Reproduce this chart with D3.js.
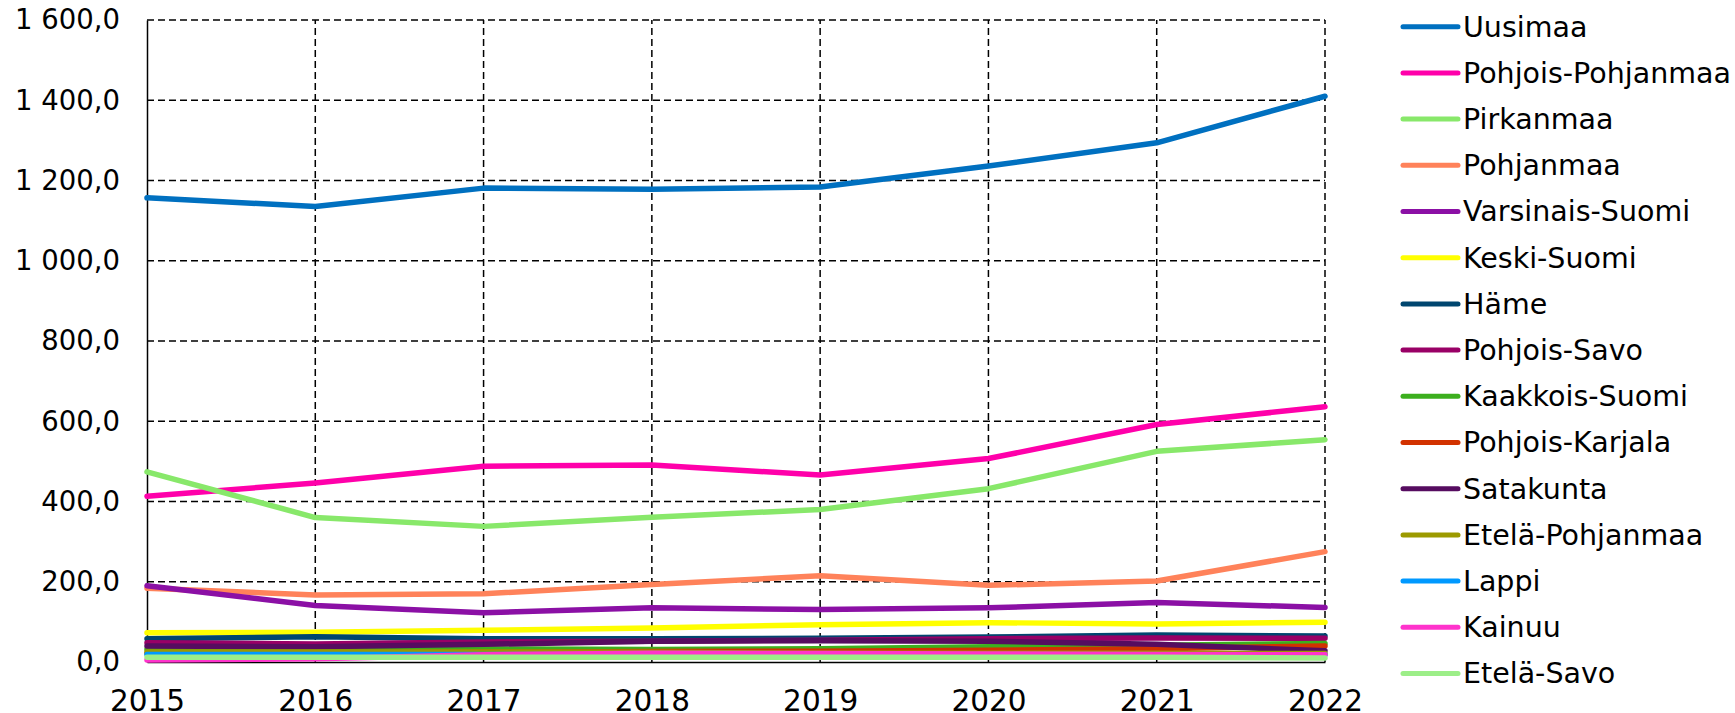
<!DOCTYPE html>
<html>
<head>
<meta charset="utf-8">
<script src="https://cdn.jsdelivr.net/npm/d3@7"></script>
<style>
  body { margin: 0; background: #fff; }
  text { font-family: "DejaVu Sans", Verdana, sans-serif; fill: #000; }
</style>
</head>
<body>
<svg></svg>
<script>
// Years on the x axis
var years = [2015, 2016, 2017, 2018, 2019, 2020, 2021, 2022];

// Region names, in legend (and drawing) order
var regions = ["Uusimaa", "Pohjois-Pohjanmaa", "Pirkanmaa", "Pohjanmaa", "Varsinais-Suomi",
  "Keski-Suomi", "Häme", "Pohjois-Savo", "Kaakkois-Suomi", "Pohjois-Karjala", "Satakunta",
  "Etelä-Pohjanmaa", "Lappi", "Kainuu", "Etelä-Savo"];

var colors = ["#0070c0", "#ff00aa", "#88e86a", "#ff825a", "#8b10a5", "#ffff00", "#00466f",
  "#990066", "#3caf1e", "#d23200", "#560c60", "#9c9a00", "#0099ff", "#ff33cc", "#9cee88"];

// Values, one array per region
var uusimaa = [1157, 1135, 1181, 1178, 1184, 1236, 1294, 1410];
var pohjoisPohjanmaa = [413, 446, 488, 491, 466, 507, 592, 636];
var pirkanmaa = [474, 360, 338, 361, 380, 432, 525, 554];
var pohjanmaa = [184, 167, 170, 193, 215, 191, 202, 275];
var varsinaisSuomi = [190, 141, 123, 135, 131, 135, 148, 136];
var keskiSuomi = [73, 74, 79, 85, 93, 98, 95, 99];
var hame = [58, 63, 58, 58, 59, 62, 67, 65];
var pohjoisSavo = [48, 45, 50, 52, 54, 58, 60, 59];
var kaakkoisSuomi = [32, 31, 33, 31, 33, 38, 42, 46];
var pohjoisKarjala = [22, 22, 24, 26, 27, 29, 33, 40];
var satakunta = [40, 38, 44, 52, 53, 52, 44, 28];
var etelaPohjanmaa = [25, 25, 25, 24, 22, 22, 22, 21];
var lappi = [19, 19, 19, 18, 17, 18, 18, 18];
var kainuu = [5, 8, 18, 22, 21, 20, 19, 18];
var etelaSavo = [12, 12, 12, 12, 12, 12, 12, 10];

var yTicks = [0, 200, 400, 600, 800, 1000, 1200, 1400, 1600];

var seriesValues = [uusimaa, pohjoisPohjanmaa, pirkanmaa, pohjanmaa, varsinaisSuomi,
  keskiSuomi, hame, pohjoisSavo, kaakkoisSuomi, pohjoisKarjala, satakunta,
  etelaPohjanmaa, lappi, kainuu, etelaSavo];

var series = regions.map(function(name, i) {
  return { name: name, color: colors[i], values: seriesValues[i] };
});

var width = 1735;
var height = 713;

var svg = d3.select("svg")
  .attr("width", width)
  .attr("height", height);

var x = d3.scaleLinear()
  .domain([2015, 2022])
  .range([147, 1325]);

var y = d3.scaleLinear()
  .domain([0, 1600])
  .range([662, 20]);

var fiLocale = d3.formatLocale({ decimal: ",", thousands: "\u00a0", grouping: [3], currency: ["", ""] });
var fmt = fiLocale.format(",.1f");

// Dashed grid
svg.append("g")
  .selectAll("line")
  .data(yTicks.slice(1))
  .enter()
  .append("line")
  .attr("x1", x(2015))
  .attr("x2", x(2022))
  .attr("y1", function(d) { return y(d); })
  .attr("y2", function(d) { return y(d); })
  .attr("stroke", "#000")
  .attr("stroke-width", 1.5)
  .attr("stroke-dasharray", "7,4");

svg.append("g")
  .selectAll("line")
  .data(years.slice(1))
  .enter()
  .append("line")
  .attr("x1", function(d) { return x(d); })
  .attr("x2", function(d) { return x(d); })
  .attr("y1", y(0))
  .attr("y2", y(1600))
  .attr("stroke", "#000")
  .attr("stroke-width", 1.5)
  .attr("stroke-dasharray", "7,4");

// Axes
var yAxis = svg.append("g")
  .attr("transform", "translate(" + x(2015) + ",0)")
  .call(d3.axisLeft(y).tickValues(yTicks).tickSize(0).tickPadding(27).tickFormat(fmt));
yAxis.select(".domain").attr("stroke", "#000").attr("stroke-width", 1.5);
yAxis.selectAll("text").style("font-size", "27.5px").style("font-family", "'DejaVu Sans', sans-serif");

var xAxis = svg.append("g")
  .attr("transform", "translate(0," + y(0) + ")")
  .call(d3.axisBottom(x).tickValues(years).tickSize(0).tickPadding(28).tickFormat(d3.format("d")));
xAxis.select(".domain").attr("stroke", "#000").attr("stroke-width", 1.5);
xAxis.selectAll("text").style("font-size", "29.5px").style("font-family", "'DejaVu Sans', sans-serif");

// Lines
var line = d3.line()
  .x(function(d, i) { return x(years[i]); })
  .y(function(d) { return y(d); });

svg.append("g")
  .selectAll("path")
  .data(series)
  .enter()
  .append("path")
  .attr("d", function(d) { return line(d.values); })
  .attr("fill", "none")
  .attr("stroke", function(d) { return d.color; })
  .attr("stroke-width", 5.5)
  .attr("stroke-linejoin", "round")
  .attr("stroke-linecap", "round");

// Legend
var legend = svg.append("g")
  .selectAll("g")
  .data(series)
  .enter()
  .append("g")
  .attr("transform", function(d, i) { return "translate(1403," + (26.7 + i * 46.2) + ")"; });

legend.append("line")
  .attr("x1", 0)
  .attr("x2", 55)
  .attr("stroke", function(d) { return d.color; })
  .attr("stroke-width", 5)
  .attr("stroke-linecap", "round");

legend.append("text")
  .attr("x", 60)
  .attr("dy", "0.35em")
  .style("font-size", "28.5px")
  .text(function(d) { return d.name; });
</script>
</body>
</html>
